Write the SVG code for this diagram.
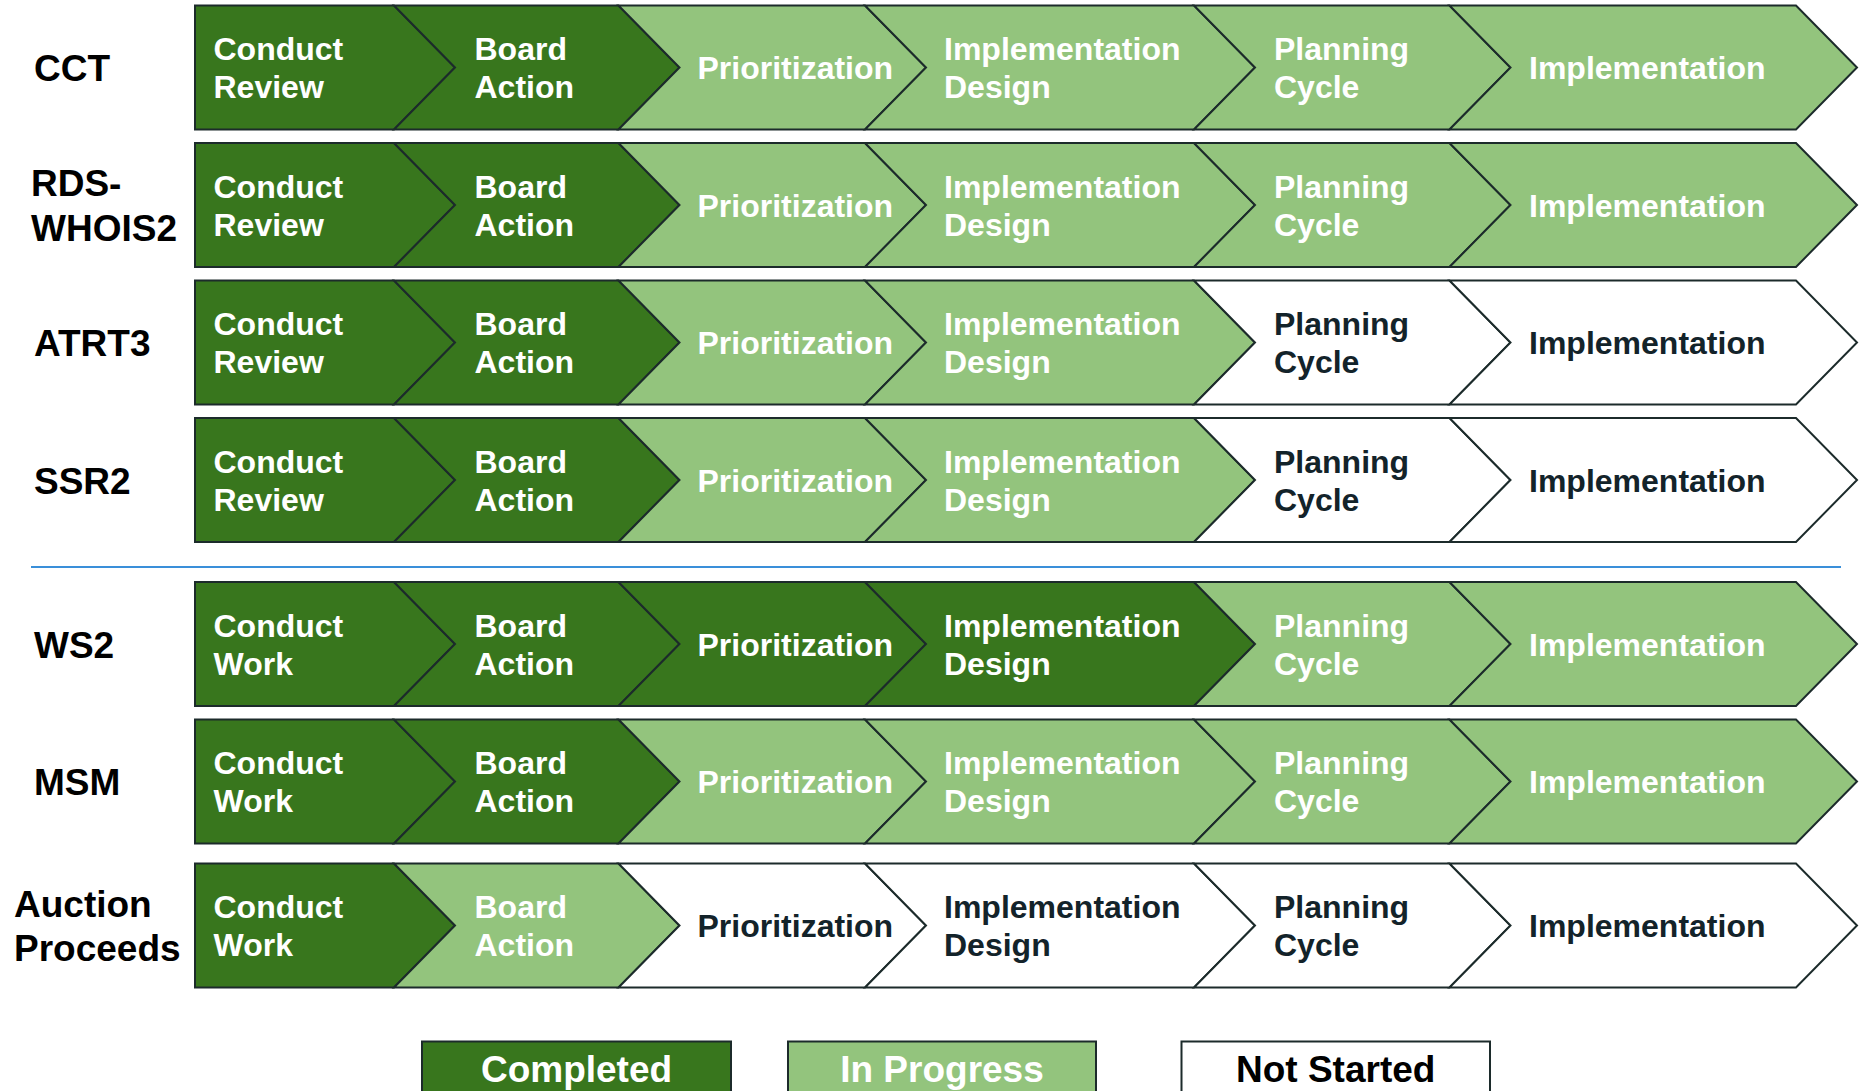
<svg xmlns="http://www.w3.org/2000/svg" xmlns:xlink="http://www.w3.org/1999/xlink" width="1860" height="1091" viewBox="0 0 1860 1091">
<style>
.s{stroke:#1c2b2b;stroke-width:2;stroke-linejoin:miter}
.done{fill:#38761d}
.prog{fill:#93c47d}
.todo{fill:#ffffff}
text{font-family:"Liberation Sans",Arial,sans-serif;font-weight:bold}
.st{font-size:32px}
.tw{fill:#ffffff}
.td{fill:#13232a}
.lab{font-size:37px;fill:#000000}
.leg{font-size:37px;text-anchor:middle}
</style>
<defs>
<polygon id="p1" points="195,0 394,0 455,62 394,124 195,124"/>
<polygon id="p2" points="394,0 618.5,0 679.5,62 618.5,124 394,124 455,62"/>
<polygon id="p3" points="618.5,0 865,0 926,62 865,124 618.5,124 679.5,62"/>
<polygon id="p4" points="865,0 1194,0 1255,62 1194,124 865,124 926,62"/>
<polygon id="p5" points="1194,0 1449.5,0 1510.5,62 1449.5,124 1194,124 1255,62"/>
<polygon id="p6" points="1449.5,0 1796,0 1857,62 1796,124 1449.5,124 1510.5,62"/>
</defs>

<g id="row-cct" transform="translate(0,5.5)">
<text class="lab" x="34" y="75.5">CCT</text>
<g id="cct-1"><use href="#p1" class="s done"/><text class="st tw" x="213.5" y="54.5">Conduct</text><text class="st tw" x="213.5" y="92.5">Review</text></g>
<g id="cct-2"><use href="#p2" class="s done"/><text class="st tw" x="474.5" y="54.5">Board</text><text class="st tw" x="474.5" y="92.5">Action</text></g>
<g id="cct-3"><use href="#p3" class="s prog"/><text class="st tw" x="697.5" y="73.5">Prioritization</text></g>
<g id="cct-4"><use href="#p4" class="s prog"/><text class="st tw" x="944" y="54.5">Implementation</text><text class="st tw" x="944" y="92.5">Design</text></g>
<g id="cct-5"><use href="#p5" class="s prog"/><text class="st tw" x="1274" y="54.5">Planning</text><text class="st tw" x="1274" y="92.5">Cycle</text></g>
<g id="cct-6"><use href="#p6" class="s prog"/><text class="st tw" x="1529" y="73.5">Implementation</text></g>
</g>

<g id="row-rds" transform="translate(0,143)">
<text class="lab" x="31" y="53">RDS-</text><text class="lab" x="31" y="97.5">WHOIS2</text>
<g id="rds-1"><use href="#p1" class="s done"/><text class="st tw" x="213.5" y="54.5">Conduct</text><text class="st tw" x="213.5" y="92.5">Review</text></g>
<g id="rds-2"><use href="#p2" class="s done"/><text class="st tw" x="474.5" y="54.5">Board</text><text class="st tw" x="474.5" y="92.5">Action</text></g>
<g id="rds-3"><use href="#p3" class="s prog"/><text class="st tw" x="697.5" y="73.5">Prioritization</text></g>
<g id="rds-4"><use href="#p4" class="s prog"/><text class="st tw" x="944" y="54.5">Implementation</text><text class="st tw" x="944" y="92.5">Design</text></g>
<g id="rds-5"><use href="#p5" class="s prog"/><text class="st tw" x="1274" y="54.5">Planning</text><text class="st tw" x="1274" y="92.5">Cycle</text></g>
<g id="rds-6"><use href="#p6" class="s prog"/><text class="st tw" x="1529" y="73.5">Implementation</text></g>
</g>

<g id="row-atrt3" transform="translate(0,280.5)">
<text class="lab" x="34" y="75.5">ATRT3</text>
<g id="atrt3-1"><use href="#p1" class="s done"/><text class="st tw" x="213.5" y="54.5">Conduct</text><text class="st tw" x="213.5" y="92.5">Review</text></g>
<g id="atrt3-2"><use href="#p2" class="s done"/><text class="st tw" x="474.5" y="54.5">Board</text><text class="st tw" x="474.5" y="92.5">Action</text></g>
<g id="atrt3-3"><use href="#p3" class="s prog"/><text class="st tw" x="697.5" y="73.5">Prioritization</text></g>
<g id="atrt3-4"><use href="#p4" class="s prog"/><text class="st tw" x="944" y="54.5">Implementation</text><text class="st tw" x="944" y="92.5">Design</text></g>
<g id="atrt3-5"><use href="#p5" class="s todo"/><text class="st td" x="1274" y="54.5">Planning</text><text class="st td" x="1274" y="92.5">Cycle</text></g>
<g id="atrt3-6"><use href="#p6" class="s todo"/><text class="st td" x="1529" y="73.5">Implementation</text></g>
</g>

<g id="row-ssr2" transform="translate(0,418)">
<text class="lab" x="34" y="75.5">SSR2</text>
<g id="ssr2-1"><use href="#p1" class="s done"/><text class="st tw" x="213.5" y="54.5">Conduct</text><text class="st tw" x="213.5" y="92.5">Review</text></g>
<g id="ssr2-2"><use href="#p2" class="s done"/><text class="st tw" x="474.5" y="54.5">Board</text><text class="st tw" x="474.5" y="92.5">Action</text></g>
<g id="ssr2-3"><use href="#p3" class="s prog"/><text class="st tw" x="697.5" y="73.5">Prioritization</text></g>
<g id="ssr2-4"><use href="#p4" class="s prog"/><text class="st tw" x="944" y="54.5">Implementation</text><text class="st tw" x="944" y="92.5">Design</text></g>
<g id="ssr2-5"><use href="#p5" class="s todo"/><text class="st td" x="1274" y="54.5">Planning</text><text class="st td" x="1274" y="92.5">Cycle</text></g>
<g id="ssr2-6"><use href="#p6" class="s todo"/><text class="st td" x="1529" y="73.5">Implementation</text></g>
</g>

<g id="separator"><line x1="31" y1="567" x2="1841" y2="567" stroke="#3a8fd9" stroke-width="2.2"/></g>

<g id="row-ws2" transform="translate(0,582)">
<text class="lab" x="34" y="75.5">WS2</text>
<g id="ws2-1"><use href="#p1" class="s done"/><text class="st tw" x="213.5" y="54.5">Conduct</text><text class="st tw" x="213.5" y="92.5">Work</text></g>
<g id="ws2-2"><use href="#p2" class="s done"/><text class="st tw" x="474.5" y="54.5">Board</text><text class="st tw" x="474.5" y="92.5">Action</text></g>
<g id="ws2-3"><use href="#p3" class="s done"/><text class="st tw" x="697.5" y="73.5">Prioritization</text></g>
<g id="ws2-4"><use href="#p4" class="s done"/><text class="st tw" x="944" y="54.5">Implementation</text><text class="st tw" x="944" y="92.5">Design</text></g>
<g id="ws2-5"><use href="#p5" class="s prog"/><text class="st tw" x="1274" y="54.5">Planning</text><text class="st tw" x="1274" y="92.5">Cycle</text></g>
<g id="ws2-6"><use href="#p6" class="s prog"/><text class="st tw" x="1529" y="73.5">Implementation</text></g>
</g>

<g id="row-msm" transform="translate(0,719.5)">
<text class="lab" x="34" y="75.5">MSM</text>
<g id="msm-1"><use href="#p1" class="s done"/><text class="st tw" x="213.5" y="54.5">Conduct</text><text class="st tw" x="213.5" y="92.5">Work</text></g>
<g id="msm-2"><use href="#p2" class="s done"/><text class="st tw" x="474.5" y="54.5">Board</text><text class="st tw" x="474.5" y="92.5">Action</text></g>
<g id="msm-3"><use href="#p3" class="s prog"/><text class="st tw" x="697.5" y="73.5">Prioritization</text></g>
<g id="msm-4"><use href="#p4" class="s prog"/><text class="st tw" x="944" y="54.5">Implementation</text><text class="st tw" x="944" y="92.5">Design</text></g>
<g id="msm-5"><use href="#p5" class="s prog"/><text class="st tw" x="1274" y="54.5">Planning</text><text class="st tw" x="1274" y="92.5">Cycle</text></g>
<g id="msm-6"><use href="#p6" class="s prog"/><text class="st tw" x="1529" y="73.5">Implementation</text></g>
</g>

<g id="row-auction" transform="translate(0,863.5)">
<text class="lab" x="14" y="53">Auction</text><text class="lab" x="14" y="97.5">Proceeds</text>
<g id="auction-1"><use href="#p1" class="s done"/><text class="st tw" x="213.5" y="54.5">Conduct</text><text class="st tw" x="213.5" y="92.5">Work</text></g>
<g id="auction-2"><use href="#p2" class="s prog"/><text class="st tw" x="474.5" y="54.5">Board</text><text class="st tw" x="474.5" y="92.5">Action</text></g>
<g id="auction-3"><use href="#p3" class="s todo"/><text class="st td" x="697.5" y="73.5">Prioritization</text></g>
<g id="auction-4"><use href="#p4" class="s todo"/><text class="st td" x="944" y="54.5">Implementation</text><text class="st td" x="944" y="92.5">Design</text></g>
<g id="auction-5"><use href="#p5" class="s todo"/><text class="st td" x="1274" y="54.5">Planning</text><text class="st td" x="1274" y="92.5">Cycle</text></g>
<g id="auction-6"><use href="#p6" class="s todo"/><text class="st td" x="1529" y="73.5">Implementation</text></g>
</g>

<g id="legend-completed"><rect class="s done" x="422" y="1041.5" width="309" height="60"/><text class="leg tw" x="576.5" y="1082">Completed</text></g>
<g id="legend-progress"><rect class="s prog" x="788" y="1041.5" width="308" height="60"/><text class="leg tw" x="942" y="1082">In Progress</text></g>
<g id="legend-notstarted"><rect class="s todo" x="1181.5" y="1041.5" width="308.5" height="60"/><text class="leg" x="1335.7" y="1082" fill="#000">Not Started</text></g>
</svg>
